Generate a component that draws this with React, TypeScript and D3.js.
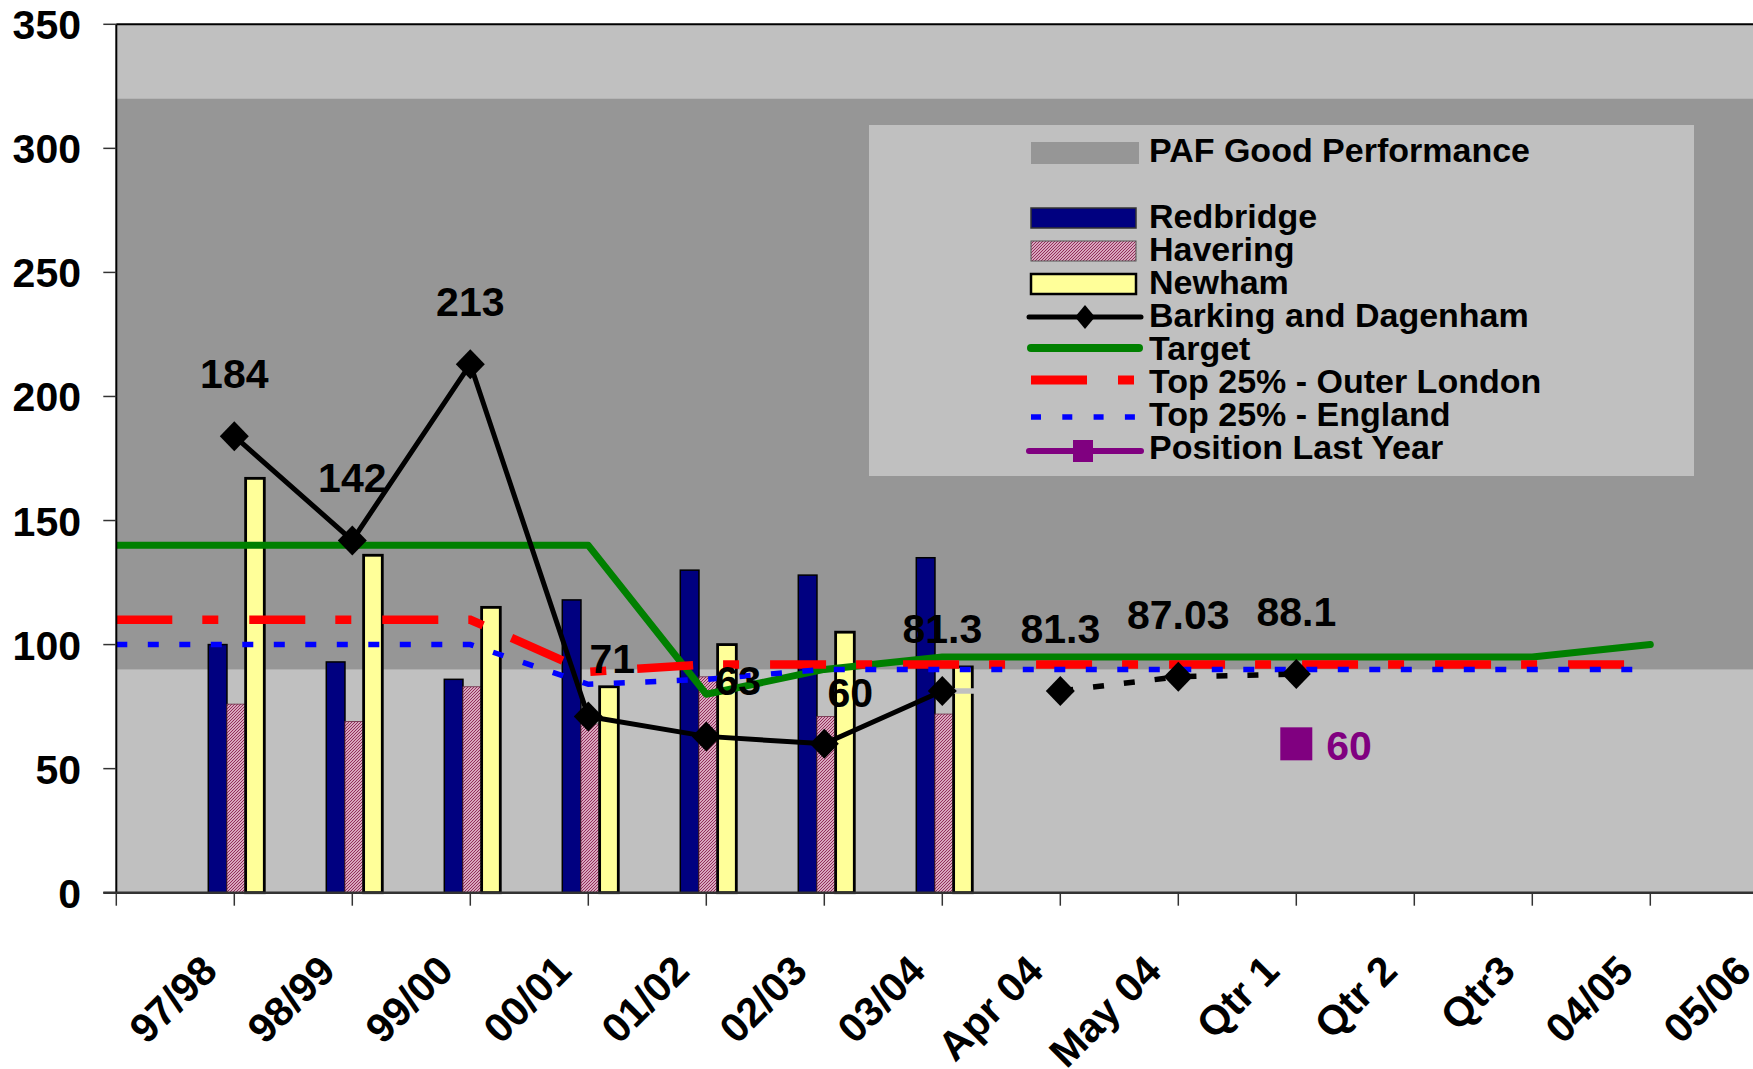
import React from "react";
import * as d3 from "d3";

// ---------- data ----------
const categories = ["", "97/98", "98/99", "99/00", "00/01", "01/02", "02/03", "03/04", "Apr 04", "May 04", "Qtr 1", "Qtr 2", "Qtr3", "04/05", "05/06"];
const redbridge = [null, 100, 93, 86, 118, 130, 128, 135, null, null, null, null, null, null, null];
const havering = [null, 76, 69, 83, 68, 87, 71, 72, null, null, null, null, null, null, null];
const newham = [null, 167, 136, 115, 83, 100, 105, 91, null, null, null, null, null, null, null];
const barkingAnnual = [null, 184, 142, 213, 71, 63, 60, 81.3, null, null, null, null, null, null, null];
const barkingMonthly = [null, null, null, null, null, null, null, null, 81.3, 87.03, 88.1, null, null, null, null];
const target = [140, 140, 140, 140, 140, 80, 90, 95, 95, 95, 95, 95, 95, 100, null];
const top25OuterLondon = [110, 110, 110, 110, 89, 92, 92, 92, 92, 92, 92, 92, 92, 92, null];
const top25England = [100, 100, 100, 100, 84, 86, 90, 90, 90, 90, 90, 90, 90, 90, null];
const positionLastYear = [null, null, null, null, null, null, null, null, null, null, 60, null, null, null, null];
const pafGoodBand = [90, 320];
const yTicks = [0, 50, 100, 150, 200, 250, 300, 350];
const barSeries = ["Redbridge", "Havering", "Newham"];
const legendItems = ["Redbridge", "Havering", "Newham", "Barking and Dagenham", "Target", "Top 25% - Outer London", "Top 25% - England", "Position Last Year"];

const FONT = "'Liberation Sans', Arial, Helvetica, sans-serif";

export default function App() {
  const W = 1753, H = 1069;
  const x = d3.scalePoint<string>().domain(categories).range([116.3, 1768.3]).padding(0);
  const y = d3.scaleLinear().domain([0, 350]).range([892.7, 24.3]);
  const xi = (i: number) => x(categories[i]) as number;
  const inner = d3.scaleBand<string>().domain(barSeries).range([-26, 30]).padding(0);
  const plotLeft = xi(0), plotRight = xi(14);

  const lineGen = d3.line<number | null>()
    .defined((d) => d != null)
    .x((_, i) => xi(i))
    .y((d) => y(d as number));

  const diamond = (cx: number, cy: number, hw: number, hh: number) =>
    `M${cx},${cy - hh}L${cx + hw},${cy}L${cx},${cy + hh}L${cx - hw},${cy}Z`;

  const lastAnnual = 7, firstMonthly = 8;
  const connector = d3.line<[number, number]>()([
    [xi(lastAnnual), y(barkingAnnual[lastAnnual] as number)],
    [xi(firstMonthly), y(barkingMonthly[firstMonthly] as number)],
  ]);

  const labelNudge: Record<number, [number, number]> = { 4: [24, 4], 5: [32, 7], 6: [26, 11] };
  const barkingAll = barkingAnnual.map((v, i) => (v != null ? v : barkingMonthly[i]));

  const legendBase = 228, legendStep = 33, swX0 = 1031, swX1 = 1139, textX = 1149;

  return (
    <svg width={W} height={H} style={{ position: "absolute", left: 0, top: 0, background: "#fff" }} fontFamily={FONT}>
      <defs>
        <pattern id="hav" patternUnits="userSpaceOnUse" width="3" height="3">
          <rect width="3" height="3" fill="#f6dce8" />
          <path d="M-1,1 L1,-1 M0,3 L3,0 M2,4 L4,2" stroke="#8e2453" strokeWidth="1.1" />
        </pattern>
        <clipPath id="plotClip">
          <rect x={plotLeft} y={y(350)} width={plotRight - plotLeft} height={y(0) - y(350)} />
        </clipPath>
      </defs>

      <rect x={plotLeft} y={y(350)} width={plotRight - plotLeft} height={y(0) - y(350)} fill="#C0C0C0" />
      <rect x={plotLeft} y={y(pafGoodBand[1])} width={plotRight - plotLeft} height={y(pafGoodBand[0]) - y(pafGoodBand[1])} fill="#969696" />

      <rect x={869} y={125} width={825} height={351} fill="#C0C0C0" />

      <g>
        {categories.map((c, i) => {
          const cx = xi(i);
          const vals = [redbridge[i], havering[i], newham[i]];
          return vals.map((v, k) => {
            if (v == null) return null;
            const s = barSeries[k];
            const bx = cx + (inner(s) as number);
            const bw = inner.bandwidth();
            const fill = k === 0 ? "#000080" : k === 1 ? "url(#hav)" : "#FFFF99";
            const stroke = k === 0 ? "#000" : k === 1 ? "#6b2a45" : "#000";
            const sw = k === 0 ? 1.5 : k === 1 ? 0.8 : 2.8;
            return <rect key={`${i}-${k}`} x={bx} y={y(v)} width={bw} height={y(0) - y(v)} fill={fill} stroke={stroke} strokeWidth={sw} />;
          });
        })}
      </g>

      <g clipPath="url(#plotClip)">
        <path d={lineGen(target) || ""} fill="none" stroke="#008000" strokeWidth={7} strokeLinecap="round" strokeLinejoin="round" />
        <path d={lineGen(top25OuterLondon) || ""} fill="none" stroke="#FF0000" strokeWidth={8.5} strokeDasharray="56 30 16 31" />
        <path d={lineGen(top25England) || ""} fill="none" stroke="#0000FF" strokeWidth={5.5} strokeDasharray="11 20.5" />
        <path d={connector || ""} fill="none" stroke="#C0C0C0" strokeWidth={5.5} />
        <path d={lineGen(barkingAnnual) || ""} fill="none" stroke="#000" strokeWidth={5} strokeLinejoin="miter" />
        <path d={lineGen(barkingMonthly) || ""} fill="none" stroke="#000" strokeWidth={5.5} strokeDasharray="11 20" strokeDashoffset={-33} />
        {barkingAll.map((v, i) => (v == null ? null : <path key={i} d={diamond(xi(i), y(v), 14.5, 15)} fill="#000" />))}
        {positionLastYear.map((v, i) => (v == null ? null : <rect key={i} x={xi(i) - 16} y={y(v) - 16.5} width={32} height={33} fill="#800080" />))}
      </g>

      <line x1={plotLeft} x2={W} y1={y(350)} y2={y(350)} stroke="#000" strokeWidth={2} />
      <line x1={plotLeft} x2={plotLeft} y1={y(350)} y2={y(0)} stroke="#000" strokeWidth={2} />
      {yTicks.map((t) => (
        <g key={t}>
          <line x1={plotLeft - 13} x2={plotLeft} y1={y(t)} y2={y(t)} stroke="#333" strokeWidth={1.5} />
          <text x={81} y={y(t) + 15} textAnchor="end" fontSize={41} fontWeight="bold" fill="#000">{t}</text>
        </g>
      ))}
      <line x1={plotLeft - 13} x2={W} y1={y(0)} y2={y(0)} stroke="#333" strokeWidth={2.5} />
      {categories.map((c, i) => (
        <line key={i} x1={xi(i)} x2={xi(i)} y1={y(0)} y2={y(0) + 13} stroke="#333" strokeWidth={1.5} />
      ))}
      {categories.map((c, i) => (c === "" ? null : (
        <text key={i} transform={`translate(${xi(i) - 15},${973}) rotate(-45)`} textAnchor="end" fontSize={41} fontWeight="bold" fill="#000">{c}</text>
      )))}

      {barkingAll.map((v, i) => {
        if (v == null) return null;
        const [dx, dy] = labelNudge[i] || [0, 0];
        return (
          <text key={i} x={xi(i) + dx} y={y(v) - 48 + dy} textAnchor="middle" fontSize={41} fontWeight="bold" fill="#000">{String(v)}</text>
        );
      })}
      {positionLastYear.map((v, i) => (v == null ? null : (
        <text key={i} x={xi(i) + 30} y={y(v) + 16} fontSize={41} fontWeight="bold" fill="#800080">{String(v)}</text>
      )))}

      <g>
        <rect x={swX0} y={142} width={swX1 - swX0} height={22} fill="#969696" />
        <text x={textX} y={162} fontSize={34} fontWeight="bold" fill="#000">PAF Good Performance</text>
        {legendItems.map((name, k) => {
          const by = legendBase + k * legendStep;
          const cy = by - 10;
          let sw: React.ReactNode = null;
          if (k === 0) sw = <rect x={swX0} y={cy - 10} width={swX1 - swX0 - 3} height={20} fill="#000080" stroke="#333" strokeWidth={1.5} />;
          if (k === 1) sw = <rect x={swX0} y={cy - 10} width={swX1 - swX0 - 3} height={20} fill="url(#hav)" stroke="#555" strokeWidth={1} />;
          if (k === 2) sw = <rect x={swX0} y={cy - 10} width={swX1 - swX0 - 3} height={20} fill="#FFFF99" stroke="#000" strokeWidth={2.5} />;
          if (k === 3) sw = (
            <g>
              <line x1={swX0 - 2} x2={swX1 + 2} y1={cy} y2={cy} stroke="#000" strokeWidth={5} strokeLinecap="round" />
              <path d={diamond((swX0 + swX1) / 2, cy, 10, 12)} fill="#000" />
            </g>
          );
          if (k === 4) sw = <line x1={swX0} x2={swX1} y1={cy - 2} y2={cy - 2} stroke="#008000" strokeWidth={8} strokeLinecap="round" />;
          if (k === 5) sw = <line x1={swX0} x2={swX1} y1={cy - 3} y2={cy - 3} stroke="#FF0000" strokeWidth={9} strokeDasharray="56 31 16 40" />;
          if (k === 6) sw = <line x1={swX0} x2={swX1} y1={cy + 1} y2={cy + 1} stroke="#0000FF" strokeWidth={5.7} strokeDasharray="10 21.3" />;
          if (k === 7) sw = (
            <g>
              <line x1={swX0 - 2} x2={swX1 + 2} y1={cy + 2} y2={cy + 2} stroke="#800080" strokeWidth={6} strokeLinecap="round" />
              <rect x={(swX0 + swX1) / 2 - 12} y={cy + 2 - 11} width={20} height={22} fill="#800080" />
            </g>
          );
          return (
            <g key={name}>
              {sw}
              <text x={textX} y={by} fontSize={34} fontWeight="bold" fill="#000">{name}</text>
            </g>
          );
        })}
      </g>
    </svg>
  );
}
